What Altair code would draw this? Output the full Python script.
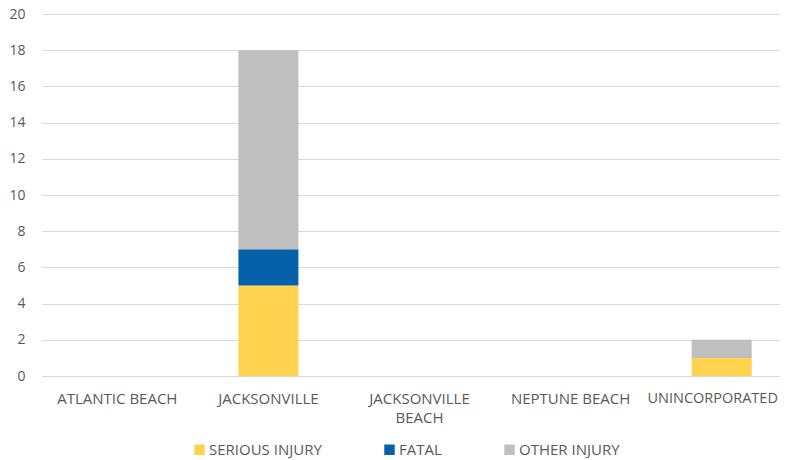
import altair as alt
import pandas as pd

categories = ["ATLANTIC BEACH", "JACKSONVILLE", "JACKSONVILLE BEACH", "NEPTUNE BEACH", "UNINCORPORATED"]
serious = [0, 5, 0, 0, 1]
fatal = [0, 2, 0, 0, 0]
other = [0, 11, 0, 0, 1]
series = ["SERIOUS INJURY", "FATAL", "OTHER INJURY"]
colors = ["#FFD34F", "#0562AA", "#BFBFBF"]

rows = []
for i, c in enumerate(categories):
    for k, (s, vals) in enumerate(zip(series, [serious, fatal, other])):
        rows.append({"cat": c, "series": s, "value": vals[i], "ord": k})
df = pd.DataFrame(rows)

font = "Open Sans"
last = "datum.value == 'UNINCORPORATED'"
chart = alt.Chart(df).mark_bar().encode(
    x=alt.X("cat:N", sort=categories, title=None,
            scale=alt.Scale(range=[0, 755], paddingInner=0.603, paddingOuter=0.3),
            axis=alt.Axis(labelAngle=0, ticks=False, domainColor="#D9D9D9", labelPadding=15,
                          labelExpr="datum.value == 'JACKSONVILLE BEACH' ? ['JACKSONVILLE', 'BEACH'] : datum.value",
                          labelLineHeight=19, labelLimit=200,
                          labelFontSize={"condition": {"test": last, "value": 14.5}, "value": 15},
                          labelOffset={"condition": {"test": last, "value": -9}, "value": 0})),
    y=alt.Y("value:Q", stack="zero", title=None,
            scale=alt.Scale(domain=[0, 20]),
            axis=alt.Axis(values=list(range(0, 21, 2)), ticks=False, domain=False,
                          gridColor="#D9D9D9", labelPadding=17)),
    color=alt.Color("series:N", scale=alt.Scale(domain=series, range=colors),
                    legend=alt.Legend(title=None, orient="none", legendX=150, legendY=428,
                                      direction="horizontal", symbolType="square", symbolSize=110,
                                      symbolStrokeWidth=0, columnPadding=60, labelOffset=2,
                                      labelFontSize=15)),
    order=alt.Order("ord:Q"),
).properties(
    width=738, height=362, autosize=alt.AutoSizeParams(type="none"),
    padding={"left": 34, "top": 6, "right": 0, "bottom": 84},
).configure_view(stroke=None).configure_axis(
    labelFont=font, labelFontSize=14, labelColor="#595959"
).configure_legend(labelFont=font, labelColor="#595959")

chart.save("out.html", embed_options={"renderer": "svg", "actions": False})
